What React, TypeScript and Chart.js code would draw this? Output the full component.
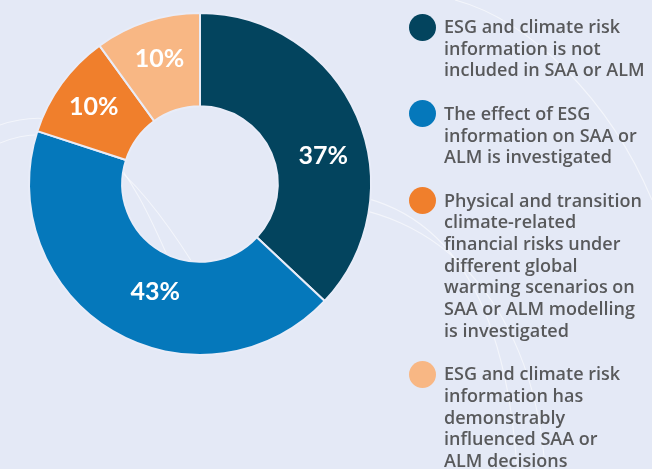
import React, { useEffect, useRef } from "react";
import { Chart, registerables } from "chart.js";

Chart.register(...registerables);

const categories = [
  "ESG and climate risk information is not included in SAA or ALM",
  "The effect of ESG information on SAA or ALM is investigated",
  "Physical and transition climate-related financial risks under different global warming scenarios on SAA or ALM modelling is investigated",
  "ESG and climate risk information has demonstrably influenced SAA or ALM decisions",
];
const legendLines = [
  ["ESG and climate risk", "information is not", "included in SAA or ALM"],
  ["The effect of ESG", "information on SAA or", "ALM is investigated"],
  [
    "Physical and transition",
    "climate-related",
    "financial risks under",
    "different global",
    "warming scenarios on",
    "SAA or ALM modelling",
    "is investigated",
  ],
  ["ESG and climate risk", "information has", "demonstrably", "influenced SAA or", "ALM decisions"],
];
const shares = [37, 43, 10, 10];
const sliceColors = ["#03445e", "#0578bb", "#f07f2c", "#f8b784"];

const BG = "#e4e9f6";
const labelAngleNudge = [10.4, -8, 0, 0];
const labelRadiusNudge = [2, -8, 7, 7];

const bgCurves = {
  id: "bgCurves",
  beforeDatasetsDraw(chart: any) {
    const ctx = chart.ctx;
    ctx.save();
    ctx.strokeStyle = "rgba(255,255,255,0.55)";
    ctx.lineWidth = 1.1;
    const curves = [
      [300, 192, 440, 185, 505, 290, 517, 469],
      [300, 204, 450, 200, 535, 320, 545, 469],
      [455, 0, 530, 20, 610, 100, 652, 200],
      [0, 125, 90, 95, 130, 170, 170, 262],
      [0, 143, 80, 110, 140, 180, 192, 262],
    ];
    for (const c of curves) {
      ctx.beginPath();
      ctx.moveTo(c[0], c[1]);
      ctx.bezierCurveTo(c[2], c[3], c[4], c[5], c[6], c[7]);
      ctx.stroke();
    }
    ctx.restore();
  },
};

const sliceLabels = {
  id: "sliceLabels",
  afterDatasetsDraw(chart: any) {
    const ctx = chart.ctx;
    const meta = chart.getDatasetMeta(0);
    ctx.save();
    ctx.fillStyle = "#ffffff";
    ctx.font = "700 25px Lato";
    ctx.textAlign = "center";
    ctx.textBaseline = "middle";
    meta.data.forEach((arc: any, i: number) => {
      const p = arc.getProps(["x", "y", "startAngle", "endAngle", "innerRadius", "outerRadius"], true);
      const a = (p.startAngle + p.endAngle) / 2 + (labelAngleNudge[i] * Math.PI) / 180;
      const r = (p.innerRadius + p.outerRadius) / 2 + labelRadiusNudge[i];
      ctx.fillText(shares[i] + "%", p.x + r * Math.cos(a), p.y + r * Math.sin(a));
    });
    ctx.restore();
  },
};

export default function App() {
  const ref = useRef<HTMLCanvasElement>(null);
  useEffect(() => {
    document.body.style.margin = "0";
    const chart = new Chart(ref.current as HTMLCanvasElement, {
      type: "doughnut",
      data: {
        labels: categories,
        datasets: [
          {
            data: shares,
            backgroundColor: sliceColors,
            borderColor: "#e8ecf8",
            borderWidth: 2,
          },
        ],
      },
      options: {
        responsive: false,
        maintainAspectRatio: false,
        animation: false,
        cutout: "45.5%",
        layout: { padding: { left: 28, top: 12, right: 280, bottom: 113 } },
        plugins: { legend: { display: false }, tooltip: { enabled: false } },
      },
      plugins: [bgCurves, sliceLabels],
    });
    return () => chart.destroy();
  }, []);

  return (
    <div style={{ position: "fixed", left: 0, top: 0, width: 652, height: 469, background: BG, overflow: "hidden" }}>
      <canvas ref={ref} width={652} height={469} style={{ position: "absolute", left: 0, top: 0 }} />
      <div
        style={{
          position: "absolute",
          left: 409,
          top: 16,
          display: "flex",
          flexDirection: "column",
          gap: 21.7,
          fontFamily: "'Open Sans', sans-serif",
          fontWeight: 600,
          fontSize: 18,
          lineHeight: "21.7px",
          color: "#58595b",
        }}
      >
        {legendLines.map((lines, i) => (
          <div key={i} style={{ display: "flex", alignItems: "flex-start" }}>
            <div
              style={{
                width: 27,
                height: 27,
                borderRadius: "50%",
                background: sliceColors[i],
                marginTop: -2.5,
                flex: "none",
              }}
            />
            <div style={{ marginLeft: 8, whiteSpace: "nowrap" }}>
              {lines.map((l, j) => (
                <div key={j}>{l}</div>
              ))}
            </div>
          </div>
        ))}
      </div>
    </div>
  );
}
